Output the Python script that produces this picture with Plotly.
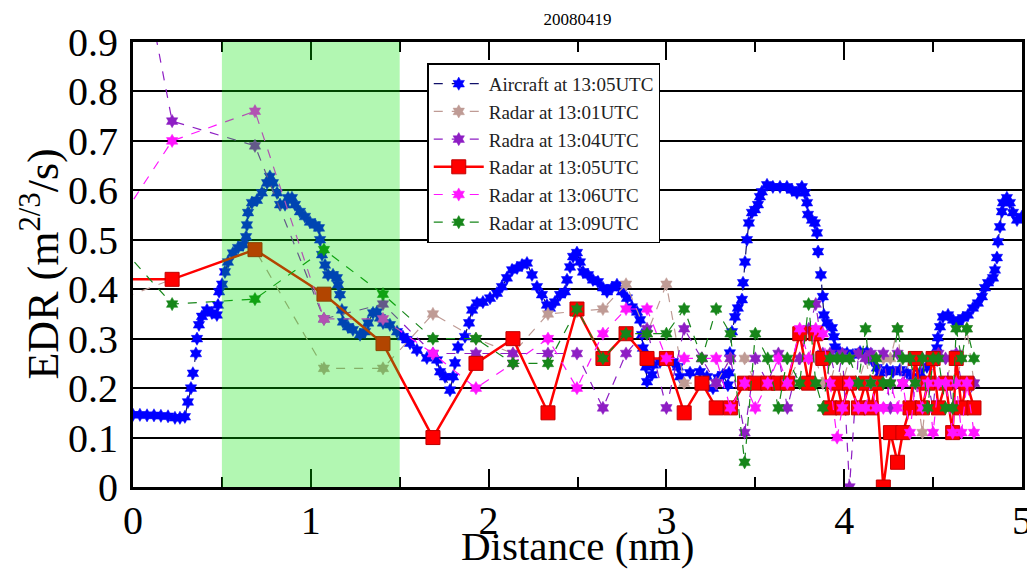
import plotly.graph_objects as go

# ---------------- data ----------------
title_text = "20080419"
x_title = "Distance (nm)"
y_title = "EDR (m<sup>2/3</sup>/s)"

# Aircraft EDR along track (distance in nm, EDR in m^(2/3)/s)
aircraft_x = [0.000, 0.039, 0.079, 0.118, 0.157, 0.197, 0.236, 0.264, 0.292, 0.309,
              0.326, 0.337, 0.354, 0.360, 0.371, 0.388, 0.416, 0.444, 0.472, 0.478,
              0.484, 0.501, 0.517, 0.534, 0.562, 0.591, 0.619, 0.636, 0.641, 0.647,
              0.669, 0.697, 0.725, 0.754, 0.770, 0.787, 0.810, 0.827, 0.855, 0.872,
              0.894, 0.911, 0.939, 0.967, 0.995, 1.024, 1.046, 1.052, 1.063, 1.080,
              1.097, 1.125, 1.147, 1.153, 1.164, 1.175, 1.181, 1.209, 1.237, 1.277,
              1.305, 1.322, 1.350, 1.372, 1.389, 1.406, 1.445, 1.485, 1.518, 1.541,
              1.558, 1.597, 1.653, 1.710, 1.727, 1.755, 1.783, 1.800, 1.811, 1.828,
              1.867, 1.890, 1.907, 1.935, 1.968, 2.008, 2.047, 2.075, 2.103, 2.132,
              2.160, 2.188, 2.216, 2.244, 2.272, 2.300, 2.328, 2.345, 2.373, 2.402,
              2.430, 2.441, 2.458, 2.475, 2.497, 2.514, 2.531, 2.559, 2.587, 2.615,
              2.643, 2.666, 2.694, 2.722, 2.750, 2.778, 2.806, 2.835, 2.852, 2.863,
              2.868, 2.885, 2.891, 2.919, 2.925, 2.964, 3.004, 3.037, 3.065, 3.076,
              3.133, 3.189, 3.228, 3.262, 3.290, 3.318, 3.346, 3.352, 3.357, 3.369,
              3.386, 3.402, 3.425, 3.431, 3.442, 3.453, 3.464, 3.481, 3.498, 3.515,
              3.526, 3.537, 3.566, 3.599, 3.639, 3.678, 3.706, 3.734, 3.762, 3.779,
              3.791, 3.796, 3.819, 3.835, 3.847, 3.853, 3.869, 3.880, 3.886, 3.903,
              3.931, 3.942, 3.948, 3.976, 4.016, 4.049, 4.089, 4.128, 4.156, 4.184,
              4.201, 4.240, 4.274, 4.314, 4.353, 4.387, 4.426, 4.465, 4.499, 4.522,
              4.527, 4.539, 4.555, 4.584, 4.612, 4.640, 4.668, 4.696, 4.724, 4.752,
              4.775, 4.792, 4.809, 4.837, 4.848, 4.859, 4.865, 4.876, 4.887, 4.893,
              4.915, 4.932, 4.949, 4.972, 5.000]
aircraft_edr = [0.146, 0.146, 0.145, 0.145, 0.144, 0.143, 0.140, 0.140, 0.142, 0.172,
                0.200, 0.230, 0.270, 0.300, 0.328, 0.345, 0.358, 0.352, 0.348, 0.368,
                0.395, 0.410, 0.435, 0.455, 0.473, 0.484, 0.490, 0.506, 0.530, 0.555,
                0.575, 0.580, 0.595, 0.615, 0.628, 0.615, 0.595, 0.571, 0.571, 0.585,
                0.585, 0.571, 0.557, 0.547, 0.536, 0.530, 0.524, 0.500, 0.470, 0.449,
                0.429, 0.429, 0.423, 0.409, 0.389, 0.358, 0.334, 0.324, 0.318, 0.308,
                0.314, 0.332, 0.352, 0.354, 0.342, 0.332, 0.328, 0.314, 0.304, 0.298,
                0.291, 0.277, 0.261, 0.257, 0.233, 0.223, 0.196, 0.223, 0.251, 0.283,
                0.304, 0.332, 0.358, 0.372, 0.374, 0.382, 0.392, 0.405, 0.423, 0.439,
                0.443, 0.449, 0.453, 0.429, 0.405, 0.389, 0.368, 0.362, 0.374, 0.389,
                0.395, 0.419, 0.445, 0.466, 0.474, 0.455, 0.435, 0.429, 0.419, 0.415,
                0.403, 0.395, 0.403, 0.409, 0.395, 0.382, 0.364, 0.354, 0.338, 0.308,
                0.281, 0.243, 0.213, 0.227, 0.247, 0.253, 0.257, 0.253, 0.243, 0.223,
                0.231, 0.233, 0.223, 0.200, 0.221, 0.227, 0.206, 0.231, 0.271, 0.314,
                0.344, 0.362, 0.379, 0.413, 0.455, 0.500, 0.534, 0.555, 0.561, 0.571,
                0.587, 0.597, 0.611, 0.607, 0.607, 0.607, 0.601, 0.595, 0.607, 0.595,
                0.575, 0.551, 0.540, 0.534, 0.514, 0.476, 0.429, 0.385, 0.348, 0.332,
                0.322, 0.304, 0.283, 0.273, 0.271, 0.267, 0.273, 0.273, 0.257, 0.241,
                0.231, 0.237, 0.233, 0.237, 0.231, 0.223, 0.231, 0.243, 0.263, 0.281,
                0.302, 0.324, 0.344, 0.348, 0.338, 0.334, 0.342, 0.348, 0.362, 0.372,
                0.385, 0.403, 0.413, 0.423, 0.439, 0.464, 0.496, 0.526, 0.557, 0.575,
                0.585, 0.575, 0.555, 0.540, 0.547]

# Radar range gates projected on the track (nm); first gate lies left of the axis
radar_x = [-0.33, 0.22, 0.686, 1.074, 1.406, 1.687, 1.929, 2.137, 2.334, 2.497,
           2.643, 2.773, 2.891, 3.00, 3.10, 3.20, 3.28, 3.36, 3.44, 3.50,
           3.57, 3.63, 3.68, 3.75, 3.80, 3.84, 3.88, 3.92, 3.96, 3.99,
           4.03, 4.08, 4.12, 4.15, 4.18, 4.22, 4.26, 4.30, 4.33, 4.37,
           4.40, 4.44, 4.47, 4.50, 4.53, 4.57, 4.61, 4.63, 4.66, 4.69, 4.73]

radar_1301 = [0.345, 0.42, 0.48, 0.24, 0.24, 0.35, 0.30, 0.27, 0.35, 0.355,
              0.36, 0.41, 0.31, 0.41, 0.21, 0.21, 0.21, 0.26, 0.26, 0.21,
              0.21, 0.21, 0.21, 0.26, 0.26, 0.26, 0.21, 0.21, 0.26, 0.21,
              0.26, 0.21, 0.26, 0.21, 0.21, 0.26, 0.26, 0.32, 0.21, 0.26,
              0.21, 0.11, 0.21, 0.26, 0.21, 0.21, 0.26, 0.21, 0.26, 0.32, 0.21]
radar_1304 = [1.77, 0.74, 0.69, 0.34, 0.37, 0.27, 0.27, 0.27, 0.27, 0.27,
              0.16, 0.27, 0.32, 0.16, 0.32, 0.26, 0.21, 0.26, 0.11, 0.26,
              0.21, 0.27, 0.16, 0.26, 0.32, 0.37, 0.27, 0.27, 0.21, 0.27,
              0.00, 0.27, 0.26, 0.27, 0.21, 0.27, 0.16, 0.27, 0.21, 0.26,
              0.16, 0.26, 0.21, 0.16, 0.27, 0.26, 0.16, 0.27, 0.21, 0.16, 0.21]
radar_1305 = [0.42, 0.42, 0.48, 0.39, 0.29, 0.10, 0.25, 0.30, 0.15, 0.36,
              0.26, 0.31, 0.26, 0.26, 0.15, 0.21, 0.16, 0.16, 0.21, 0.21,
              0.21, 0.21, 0.21, 0.31, 0.21, 0.31, 0.26, 0.16, 0.21, 0.16,
              0.21, 0.16, 0.21, 0.16, 0.21, 0.00, 0.11, 0.05, 0.11, 0.16,
              0.26, 0.16, 0.21, 0.26, 0.16, 0.21, 0.11, 0.26, 0.16, 0.21, 0.16]
radar_1306 = [0.40, 0.70, 0.76, 0.34, 0.34, 0.27, 0.20, 0.25, 0.30, 0.20,
              0.31, 0.36, 0.36, 0.26, 0.26, 0.26, 0.26, 0.16, 0.21, 0.16,
              0.21, 0.26, 0.21, 0.32, 0.26, 0.32, 0.31, 0.21, 0.10, 0.16,
              0.21, 0.16, 0.16, 0.21, 0.16, 0.16, 0.21, 0.16, 0.21, 0.11,
              0.21, 0.16, 0.21, 0.11, 0.21, 0.21, 0.11, 0.21, 0.11, 0.21, 0.11]
radar_1309 = [0.59, 0.37, 0.38, 0.48, 0.39, 0.30, 0.30, 0.25, 0.25, 0.36,
              0.26, 0.31, 0.31, 0.31, 0.36, 0.26, 0.36, 0.31, 0.05, 0.31,
              0.26, 0.16, 0.26, 0.21, 0.37, 0.21, 0.16, 0.26, 0.26, 0.26,
              0.26, 0.21, 0.32, 0.21, 0.26, 0.21, 0.21, 0.32, 0.26, 0.26,
              0.21, 0.26, 0.16, 0.26, 0.26, 0.16, 0.16, 0.32, 0.26, 0.32, 0.26]

series_names = ["Aircraft at 13:05UTC", "Radar at 13:01UTC", "Radra at 13:04UTC",
                "Radar at 13:05UTC", "Radar at 13:06UTC", "Radar at 13:09UTC"]

highlight_range = [0.5, 1.5]
x_ticks = [0, 1, 2, 3, 4, 5]
y_ticks = [0, 0.1, 0.2, 0.3, 0.4, 0.5, 0.6, 0.7, 0.8, 0.9]

# ---------------- figure ----------------
# The page body keeps its default 8 px margin, so the figure is 8 px smaller
# than the window and the margins are measured from that offset.
SERIF = "Liberation Serif"
fig = go.Figure()

fig.add_trace(go.Scatter(
    x=aircraft_x, y=aircraft_edr, name=series_names[0], mode="lines+markers",
    line=dict(color="#10106a", width=1.2, dash="dash"),
    marker=dict(symbol="hexagram", size=10, color="#0000ff",
                line=dict(color="#0000ff", width=0.5))))

radar_series = [radar_1301, radar_1304, radar_1305, radar_1306, radar_1309]
radar_colors = ["#bf9b95", "#8e1ec4", "#ff0000", "#ff14ff", "#17861a"]
for i, (vals, col) in enumerate(zip(radar_series, radar_colors)):
    if i == 2:
        line = dict(color=col, width=2.5)
        marker = dict(symbol="square", size=14, color=col,
                      line=dict(color="#c00000", width=1))
    else:
        line = dict(color=col, width=1.2, dash="dash")
        marker = dict(symbol="hexagram", size=10, color=col,
                      line=dict(color=col, width=0.5))
    fig.add_trace(go.Scatter(x=radar_x, y=vals, name=series_names[i + 1],
                             mode="lines+markers", line=line, marker=marker))

fig.add_shape(type="rect", xref="x", yref="paper",
              x0=highlight_range[0], x1=highlight_range[1], y0=0, y1=1,
              fillcolor="rgb(0,230,0)", opacity=0.3, line_width=0, layer="above")

axis_common = dict(showline=True, linecolor="black", linewidth=3, mirror="allticks",
                   ticks="inside", tickcolor="black", zeroline=False, automargin=False,
                   tickfont=dict(family=SERIF, size=40, color="black"))

fig.update_xaxes(range=[0, 5], tickvals=x_ticks, ticklen=18, tickwidth=2,
                 showgrid=False, ticklabelstandoff=-4,
                 minor=dict(tick0=0, dtick=0.5, ticks="inside", ticklen=10,
                            tickwidth=1.5, tickcolor="black", showgrid=False),
                 **axis_common)
fig.update_yaxes(range=[0, 0.9], tickvals=y_ticks, ticklen=8, tickwidth=2,
                 showgrid=True, gridcolor="black", gridwidth=1.6,
                 ticklabelstandoff=4, **axis_common)

fig.add_annotation(text=x_title, xref="paper", yref="paper", x=0.5, y=0,
                   xanchor="center", yanchor="bottom", yshift=-84, showarrow=False,
                   font=dict(family=SERIF, size=41, color="black"))
fig.add_annotation(text=y_title, xref="paper", yref="paper", x=-0.1046, y=0.5,
                   xanchor="center", yanchor="middle", textangle=-90, showarrow=False,
                   font=dict(family=SERIF, size=44, color="black"))

fig.update_layout(
    template="none",
    width=1027, height=563,
    margin=dict(l=125, r=13, t=34, b=84),
    paper_bgcolor="white", plot_bgcolor="white",
    title=dict(text=title_text, x=0.5545, xanchor="center", y=0.981, yanchor="middle",
               font=dict(family=SERIF, size=17, color="black")),
    showlegend=True,
    legend=dict(x=0.331, y=0.952, xanchor="left", yanchor="top",
                bgcolor="white", bordercolor="black", borderwidth=1.5,
                font=dict(family=SERIF, size=19, color="#222222"),
                tracegroupgap=0, itemwidth=50),
)

fig.write_html("out.html")
